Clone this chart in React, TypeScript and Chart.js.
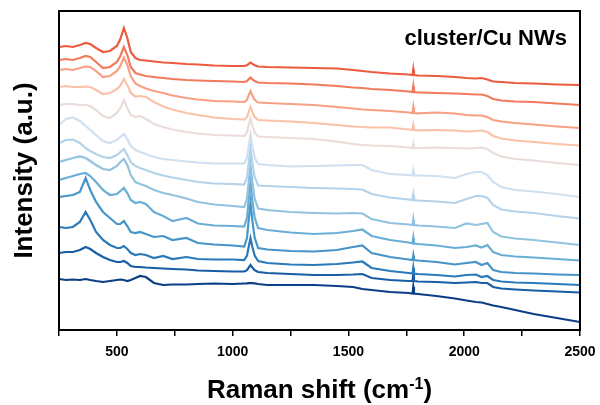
import { useEffect, useRef } from "react";
import { Chart, registerables } from "chart.js";

Chart.register(...registerables);

// Raman shift (cm-1) sampling positions
const WAVENUMBER = [250, 280, 310, 340, 365, 385, 410, 440, 470, 500, 515, 530, 545, 560, 580, 600, 625, 660, 700, 740, 800, 850, 920, 1000, 1050, 1062, 1070, 1077, 1085, 1095, 1110, 1150, 1250, 1350, 1450, 1520, 1560, 1600, 1680, 1760, 1777, 1780, 1783, 1800, 1880, 1960, 2010, 2050, 2075, 2100, 2125, 2160, 2220, 2300, 2400, 2500];

// Stacked intensities (a.u.), top spectrum first
const SPEC_01 = [283, 284, 283, 285, 287, 286, 282, 278, 279, 284, 291, 302, 292, 278, 272, 270, 269.5, 268.5, 267.5, 267, 266, 265.5, 264.5, 264, 264, 264.7, 266.3, 267.5, 266.1, 264.7, 263.5, 263, 262.5, 262, 261.5, 260, 259, 258, 256.5, 255.5, 255, 260.5, 255, 254.5, 254, 253, 252, 251.5, 252, 250.5, 248.5, 248, 247, 246.5, 245.5, 245];
const SPEC_02 = [270, 271, 270, 272, 274, 273, 268, 262, 263, 268, 274, 283, 275, 263, 257, 255.5, 254, 253, 252, 251, 250, 249.5, 249, 248.5, 248, 248.9, 250.9, 252.5, 250.7, 248.9, 247.5, 247, 246.5, 245.5, 244, 242.5, 242, 241, 240, 238.5, 238, 243.5, 238, 237.7, 237, 236.5, 236, 235.5, 235.5, 234, 231, 229.5, 228.5, 228, 226.5, 225];
const SPEC_03 = [260, 261, 260, 262, 263.5, 263, 259, 253, 254, 259, 264, 272.5, 265, 254, 246.5, 244, 241.5, 239, 237, 234.5, 232, 230.5, 229, 228.5, 228, 230.2, 235.2, 239, 234.6, 230.2, 227.5, 227, 226, 225, 223, 221.5, 220.5, 220, 219, 217.5, 217, 222.5, 217, 216.7, 217.5, 216.5, 215, 214.5, 214.5, 213, 210, 208.5, 207, 205.5, 203.5, 202];
const SPEC_04 = [243, 244, 243, 243, 243.5, 243, 240, 236, 237, 241, 244.5, 251, 245, 237, 233.5, 234, 233, 228, 223.5, 220.5, 217, 215, 212.5, 211, 210.5, 213, 218.6, 223, 218, 213, 210, 209.5, 208.5, 207, 205, 203.5, 203, 202.5, 202.5, 200.5, 200, 204.5, 200, 199.7, 200, 199.5, 198.5, 199, 199.5, 198, 194, 191.5, 189.5, 188, 186, 184.5];
const SPEC_05 = [225, 226, 226, 225, 225, 224, 220, 214, 212, 217, 222, 230, 222, 215, 213, 214, 211, 206, 203, 200.5, 198, 196.5, 195, 194.5, 194, 197.5, 205.4, 211.5, 204.5, 197.5, 193.5, 193, 192, 191, 188.5, 186, 185, 184.5, 184, 182.5, 182, 186, 182, 182, 182.5, 182, 181.5, 182, 182.5, 181, 177, 173.5, 171, 169.5, 167, 165];
const SPEC_06 = [205, 211, 212.5, 209, 204, 200, 195, 189, 187, 190, 193, 196, 191, 184, 180, 178, 176, 173, 171, 170, 168.5, 167.5, 166.5, 166.5, 166.5, 172.2, 185, 195, 183.6, 172.2, 166, 165, 163.5, 164, 164.5, 165, 165, 160, 156, 155, 154.5, 159, 154.5, 154.5, 154, 152, 156, 158, 158, 155, 148, 143, 140, 138.5, 136, 133];
const SPEC_07 = [187, 190, 190.5, 187, 182, 179, 176, 173, 172, 175, 178, 181, 175, 168, 164, 162, 160, 157, 154.5, 152.5, 150, 148, 146.5, 146, 145.5, 152.7, 168.9, 181.5, 167.1, 152.7, 144.5, 144, 143, 142, 141.5, 141, 140.5, 136, 132.5, 130.5, 130, 135, 130, 129.5, 128.5, 127, 131, 134, 134, 132, 125, 120.5, 118.5, 117, 114, 111.5];
const SPEC_08 = [168, 170, 172, 173.5, 172, 169, 165, 161, 160, 164, 168, 171, 165, 155, 148, 146, 144, 140, 137, 135, 131.5, 128, 125.5, 124, 123, 131.4, 150.3, 165, 148.2, 131.4, 121.5, 120, 118, 117, 116.5, 117, 116.5, 111, 107, 105.5, 105, 110.5, 105, 104.5, 103.5, 102, 106.5, 105, 106, 107, 98, 93.5, 91.5, 90, 87.5, 85];
const SPEC_09 = [150, 152, 154, 156, 157, 154, 148, 140, 135, 136, 139, 142, 137, 130, 127, 128, 126, 118, 114, 109, 112, 106.5, 104.5, 104, 103.5, 112.4, 132.4, 148, 130.2, 112.4, 102, 100, 97.5, 96, 97, 99, 100.5, 94, 90, 87.5, 86.5, 92, 86.5, 86, 84.5, 82, 83, 84.5, 82.5, 85, 78, 75, 73.5, 72.5, 71, 69.5];
const SPEC_10 = [133, 134, 135, 138, 152, 140, 128, 118, 112, 106, 106, 109, 104, 98, 97, 98, 96, 93, 94, 90, 92, 87, 85.5, 84.5, 83.5, 92.2, 111.8, 127, 109.6, 92.2, 82, 80.5, 79, 78.5, 80, 83, 84.5, 77, 73, 70.5, 70, 74.5, 70, 69.5, 68, 65.5, 67, 68, 65, 67, 60, 58, 57, 56.5, 55.5, 55];
const SPEC_11 = [103, 102, 103, 108, 118, 110, 98, 90, 85, 82, 82, 84, 81, 77, 75, 76, 75, 72, 74, 71, 73, 71, 70.5, 70.5, 70, 74.4, 84.3, 92, 83.2, 74.4, 69, 67, 65.5, 65, 66, 67.5, 68.5, 62, 59, 57, 56.5, 62, 56.5, 56, 55, 53.5, 55, 55.5, 53, 54, 50, 48.5, 47.5, 47, 46, 45];
const SPEC_12 = [77, 78, 78, 80, 83, 81, 77, 73, 70, 68, 68, 69, 67, 64, 63, 63, 62.5, 62, 61.5, 61, 60.5, 59.5, 59, 58.5, 58.5, 59.8, 62.7, 65, 62.4, 59.8, 58, 57, 56, 55, 55, 55.5, 56, 52, 50, 49, 49, 56, 49, 48.5, 48, 47, 47.5, 48, 47, 47, 43, 41.5, 40.5, 39.5, 38.5, 37.5];
const SPEC_13 = [51, 50, 50.5, 50, 51, 50, 49, 48, 49, 50, 50.5, 50, 49, 50, 52, 54, 53, 47, 45, 45.5, 45.5, 46, 46.5, 46, 46.5, 46.6, 46.8, 47, 46.8, 46.6, 46, 45, 45, 45, 44, 43, 41, 40, 38, 37, 36.5, 43, 36.5, 36, 34, 31.5, 29.5, 28, 27.5, 26, 24.5, 23, 20, 16, 12, 8];

const SPECTRA = [SPEC_01, SPEC_02, SPEC_03, SPEC_04, SPEC_05, SPEC_06, SPEC_07, SPEC_08, SPEC_09, SPEC_10, SPEC_11, SPEC_12, SPEC_13];
const COLORS = ["#ec5b40", "#f27b5d", "#f7a084", "#f9c2a9", "#eadcd8", "#cfe0f1", "#b2d3e9", "#92c2df", "#6aadd6", "#4694c8", "#2a79b9", "#175ea7", "#0c3e85"];

const X_MIN = 250;
const X_MAX = 2500;
const X_STEP = 250;
const X_LABEL_EVERY = 500;
const Y_MIN = 0;
const Y_MAX = 319;

const X_TITLE = "Raman shift (cm";
const X_TITLE_SUP = "-1";
const X_TITLE_END = ")";
const Y_TITLE = "Intensity (a.u.)";
const SAMPLE_LABEL = "cluster/Cu NWs";

const FAMILY = '"Liberation Sans", Arial, Helvetica, sans-serif';

export default function App() {
  const ref = useRef<HTMLCanvasElement | null>(null);

  useEffect(() => {
    if (!ref.current) return;

    const decor = {
      id: "decor",
      afterDraw(chart: any) {
        const { ctx, chartArea } = chart;
        const { left, top, right, bottom } = chartArea;
        ctx.save();
        ctx.strokeStyle = "#000";
        ctx.lineWidth = 2;
        ctx.strokeRect(left, top, right - left, bottom - top);

        ctx.fillStyle = "#000";
        ctx.textBaseline = "alphabetic";
        ctx.textAlign = "left";
        ctx.font = `bold 26px ${FAMILY}`;
        const w1 = ctx.measureText(X_TITLE).width;
        const w3 = ctx.measureText(X_TITLE_END).width;
        ctx.font = `bold 16px ${FAMILY}`;
        const w2 = ctx.measureText(X_TITLE_SUP).width;
        const total = w1 + w2 + w3;
        const x0 = (left + right) / 2 - total / 2;
        const base = 398;
        ctx.font = `bold 26px ${FAMILY}`;
        ctx.fillText(X_TITLE, x0, base);
        ctx.fillText(X_TITLE_END, x0 + w1 + w2, base);
        ctx.font = `bold 16px ${FAMILY}`;
        ctx.fillText(X_TITLE_SUP, x0 + w1, base - 9);

        ctx.font = `bold 22px ${FAMILY}`;
        ctx.textAlign = "right";
        ctx.fillText(SAMPLE_LABEL, 567, 45);
        ctx.restore();
      },
    };

    const chart = new Chart(ref.current, {
      type: "line",
      data: {
        datasets: SPECTRA.map((s, i) => ({
          label: `spectrum ${i + 1}`,
          data: WAVENUMBER.map((w, j) => ({ x: w, y: s[j] })),
          borderColor: COLORS[i],
          backgroundColor: COLORS[i],
          borderWidth: 2.2,
          pointRadius: 0,
          fill: false,
          tension: 0,
        })),
      },
      options: {
        responsive: false,
        animation: false,
        layout: { padding: { top: 11, right: 20, left: 0, bottom: 0 } },
        plugins: { legend: { display: false }, tooltip: { enabled: false } },
        scales: {
          x: {
            type: "linear",
            min: X_MIN,
            max: X_MAX,
            ticks: {
              stepSize: X_STEP,
              autoSkip: false,
              maxRotation: 0,
              padding: 8,
              color: "#000",
              font: { family: FAMILY, size: 14, weight: "bold" },
              callback: (v: any) => (Number(v) % X_LABEL_EVERY === 0 ? String(v) : ""),
            },
            grid: { display: true, drawOnChartArea: false, drawTicks: true, tickLength: 6, color: "#000", lineWidth: 1.5 },
            border: { display: false },
            afterFit: (s: any) => {
              s.height = 75;
              s.paddingLeft = 0;
              s.paddingRight = 0;
            },
          },
          y: {
            min: Y_MIN,
            max: Y_MAX,
            ticks: { display: false },
            grid: { display: false },
            border: { display: false },
            title: {
              display: true,
              text: Y_TITLE,
              color: "#000",
              font: { family: FAMILY, size: 26, weight: "bold" },
              padding: { top: 9, bottom: 0 },
            },
            afterFit: (s: any) => {
              s.width = 59;
              s.paddingTop = 0;
              s.paddingBottom = 0;
            },
          },
        },
      },
      plugins: [decor],
    } as any);

    return () => chart.destroy();
  }, []);

  return (
    <div style={{ position: "fixed", left: 0, top: 0, width: 600, height: 405, background: "#fff" }}>
      <canvas ref={ref} width={600} height={405} style={{ width: 600, height: 405, display: "block" }} />
    </div>
  );
}
